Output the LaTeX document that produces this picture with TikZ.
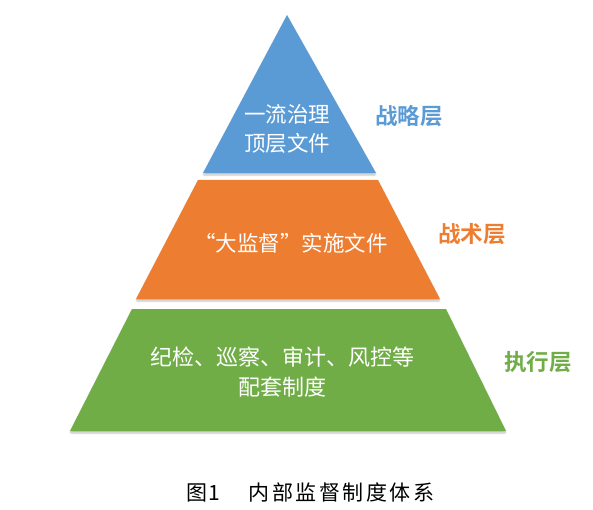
\documentclass[tikz,border=0pt]{standalone}
\usepackage{fontspec}
\usetikzlibrary{shadows.blur}
\newfontfamily\cjk{Noto Sans CJK SC}
\newfontfamily\cjkb{Noto Sans CJK SC Bold}
\newfontfamily\capfont{Noto Sans CJK SC}
\definecolor{pblue}{HTML}{5B9BD5}
\definecolor{porange}{HTML}{ED7D31}
\definecolor{pgreen}{HTML}{70AD47}
\tikzset{
  layer/.style={blur shadow={shadow blur steps=5,shadow xshift=0pt,shadow yshift=-2pt,shadow opacity=25,shadow blur extra rounding=1pt}},
  intext/.style={text=white,font=\cjk\fontsize{21.5}{29}\selectfont,align=center,inner sep=0pt},
  lab/.style={font=\cjkb\fontsize{22.5}{25}\selectfont,inner sep=0pt},
}
\begin{document}
\begin{tikzpicture}[x=1pt,y=-1pt]
\useasboundingbox (0,0) rectangle (593,510);
% layers
\path[layer,fill=pblue] (287,15) -- (376,173) -- (203,173) -- cycle;
\path[layer,fill=porange] (198,180) -- (378,180) -- (440,299) -- (136,299) -- cycle;
\path[layer,fill=pgreen] (132,309) -- (446,309) -- (506,431) -- (70,431) -- cycle;
% texts
\node[intext] (t1) at (287,129) {一流治理\\顶层文件};
\node[intext] (t2) at (291,243) {“大监督”实施文件};
\node[intext,font=\cjk\fontsize{22}{30}\selectfont] (t3) at (282,372) {纪检、巡察、审计、风控等\\配套制度};
% labels
\node[lab,text=pblue] (l1) at (409,116) {战略层};
\node[lab,text=porange] (l2) at (472,234) {战术层};
\node[lab,text=pgreen] (l3) at (538,362) {执行层};
% caption
\node[font=\capfont\fontsize{21}{24}\selectfont,inner sep=0pt,anchor=west] (cap) at (186,492)
  {图\kern1pt 1\hspace{29pt}内\kern2.5pt 部\kern2.5pt 监\kern2.5pt 督\kern2.5pt 制\kern2.5pt 度\kern2.5pt 体\kern2.5pt 系};
\end{tikzpicture}
\end{document}
